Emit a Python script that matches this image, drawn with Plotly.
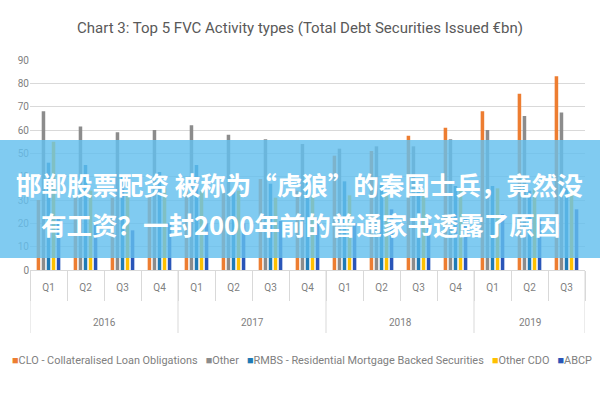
import plotly.graph_objects as go

years = ["2016"] * 4 + ["2017"] * 4 + ["2018"] * 4 + ["2019"] * 3
quarters = ["Q1", "Q2", "Q3", "Q4"] * 3 + ["Q1", "Q2", "Q3"]

clo = [30, 31, 31, 32, 34, 34, 39, 34, 49, 51, 57.5, 61, 68, 75.5, 83]
other = [68, 61.5, 59, 60, 62, 58, 56, 54, 52, 53, 53, 56, 60, 66, 67.5]
rmbs = [46, 45, 40, 42, 45, 34, 37, 40, 38, 37, 35, 36, 36, 34, 35]
other_cdo = [55, 34, 33, 35, 34, 34, 31, 32, 32, 32, 34, 34, 35, 35, 34]
abcp = [22, 21, 17, 20, 20, 20, 21, 22, 20, 26, 20, 22, 24, 22, 26]

series_names = [
    "CLO - Collateralised Loan Obligations",
    "Other",
    "RMBS - Residential Mortgage Backed Securities",
    "Other CDO",
    "ABCP",
]
series_values = [clo, other, rmbs, other_cdo, abcp]
series_colors = ["#ED7D31", "#8C8C8C", "#1F7AB5", "#FFC000", "#2A55B8"]

title_text = "Chart 3: Top 5 FVC Activity types (Total Debt Securities Issued €bn)"
banner_line1 = "邯郸股票配资 被称为“虎狼”的秦国士兵，竟然没"
banner_line2 = "有工资？一封2000年前的普通家书透露了原因"

FONT = "Roboto, sans-serif"
GREY = "#808080"
LINE = "#D9D9D9"

categories = [f"{y} {q}" for y, q in zip(years, quarters)]

fig = go.Figure()
for name, vals, col in zip(series_names, series_values, series_colors):
    fig.add_trace(go.Bar(x=categories, y=vals, name=name,
                         marker=dict(color=col, line=dict(width=0))))

H_PLOT = 210.0
def py(px):
    return (270 - px) / H_PLOT

# year groups: label centred under its quarters, long dividers at group edges
year_list = []
for y in years:
    if y not in year_list:
        year_list.append(y)
annotations = []
shapes = []
edges = [-0.5]
for y in year_list:
    idx = [i for i, yy in enumerate(years) if yy == y]
    annotations.append(dict(text=y, xref="x", yref="paper", x=sum(idx) / len(idx), y=py(322),
                            showarrow=False, xanchor="center", yanchor="middle",
                            font=dict(family=FONT, size=10, color=GREY)))
    edges.append(idx[-1] + 0.5)
for e in edges:
    shapes.append(dict(type="line", xref="x", yref="paper", x0=e, x1=e, y0=0, y1=py(333),
                       line=dict(color=LINE, width=1)))

shapes.append(dict(type="rect", xref="paper", yref="paper", layer="above",
                   x0=-30 / 555, x1=1 + 15 / 555, y0=py(258), y1=py(140),
                   fillcolor="rgba(100,192,238,0.82)", line=dict(width=0)))

legend_html = "&nbsp;&nbsp;&nbsp;".join(
    f'<span style="color:{c}">■</span>{n}' for n, c in zip(series_names, series_colors)
)

annotations += [
    dict(text="<b>" + banner_line1 + "</b>", xref="paper", yref="paper",
         x=(299 - 30) / 555, y=py(183), showarrow=False, xanchor="center", yanchor="middle",
         font=dict(family="Noto Sans CJK SC", size=25.5, color="white")),
    dict(text="<b>" + banner_line2 + "</b>", xref="paper", yref="paper",
         x=(300 - 30) / 555, y=py(223), showarrow=False, xanchor="center", yanchor="middle",
         font=dict(family="Noto Sans CJK SC", size=25.5, color="white")),
    dict(text=legend_html, xref="paper", yref="paper",
         x=(302 - 30) / 555, y=py(360), showarrow=False, xanchor="center", yanchor="middle",
         font=dict(family=FONT, size=10.9, color=GREY)),
]

fig.update_layout(
    width=600, height=400,
    margin=dict(l=30, r=15, t=60, b=130),
    paper_bgcolor="white", plot_bgcolor="white",
    barmode="group", bargap=0.32, bargroupgap=0.3,
    showlegend=False,
    title=dict(text=title_text, x=0.5, xanchor="center", y=1 - 28 / 400, yanchor="middle",
               font=dict(family=FONT, size=15, color="#595959")),
    font=dict(family=FONT, color=GREY),
    xaxis=dict(type="category", categoryorder="array", categoryarray=categories,
               tickmode="array", tickvals=categories, ticktext=quarters,
               range=[-0.5, len(categories) - 0.5],
               showgrid=False, ticks="outside", tickson="boundaries",
               ticklen=30, tickcolor=LINE, showline=True, linecolor=LINE,
               ticklabelstandoff=8,
               tickfont=dict(family=FONT, size=10, color=GREY)),
    yaxis=dict(range=[0, 90], dtick=10, showgrid=True, gridcolor=LINE, zeroline=False,
               showline=False, tickfont=dict(family=FONT, size=10, color=GREY)),
    shapes=shapes,
    annotations=annotations,
)

fig.write_html("out.html")
